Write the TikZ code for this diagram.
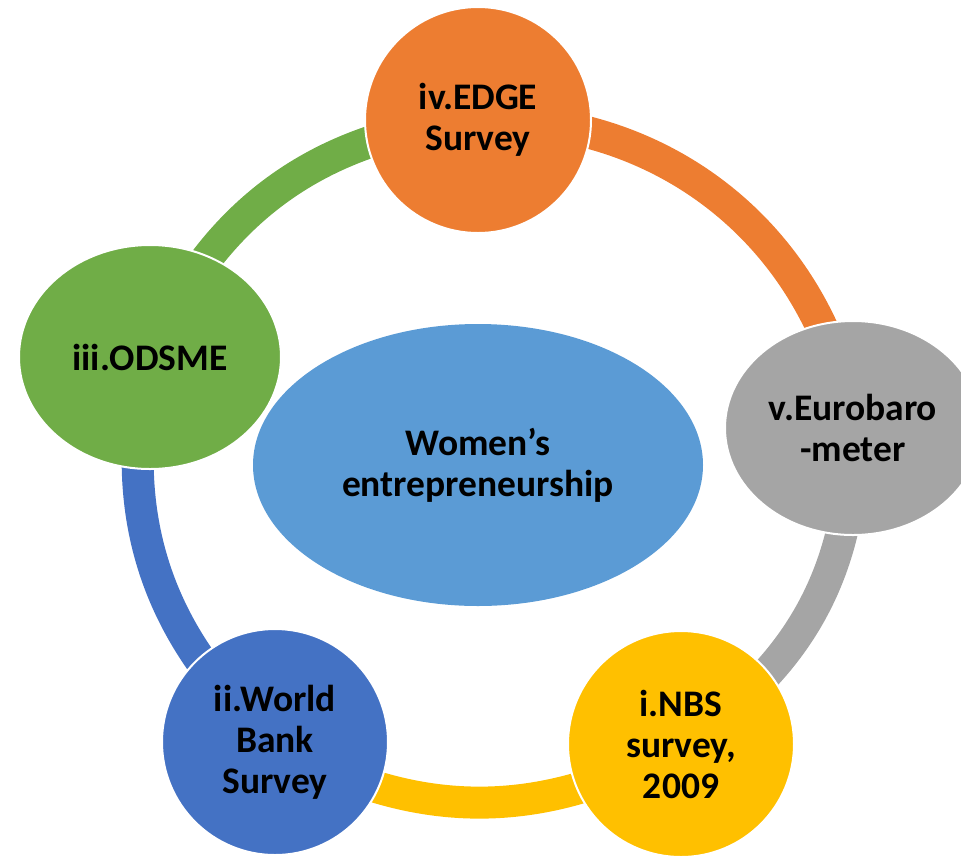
\documentclass[tikz,border=0pt]{standalone}
\usepackage{fontspec}
\setmainfont{Carlito}
\usepackage{tikz}
\usetikzlibrary{shapes.geometric,backgrounds}
\definecolor{softorange}{RGB}{237,125,49}
\definecolor{softgray}{RGB}{165,165,165}
\definecolor{softyellow}{RGB}{255,192,0}
\definecolor{softblue}{RGB}{68,114,196}
\definecolor{softgreen}{RGB}{112,173,71}
\definecolor{hubblue}{RGB}{91,155,213}
\tikzset{
  item/.style ={circle, draw=white, line width=2pt, minimum size=226pt, inner sep=0pt,
                align=center, font=\fontsize{37.5}{41}\selectfont\bfseries},
  oitem/.style={item, ellipse, minimum width=262pt, minimum height=224pt},
  hub/.style  ={ellipse, fill=hubblue, minimum width=450pt, minimum height=282pt,
                inner sep=0pt, align=center, font=\fontsize{37.5}{41}\selectfont\bfseries},
  link/.style ={line width=32pt, line cap=butt}
}

\begin{document}
\begin{tikzpicture}[x=1pt, y=-1pt]
\useasboundingbox (0,0) rectangle (961,855);
\node[hub] (women) at (478,465) {Women’s\\entrepreneurship};
\node[item, fill=softorange] (edge) at (478,120) {iv.EDGE\\Survey};
\node[oitem, fill=softgray, minimum width=256pt, minimum height=214pt] (euro) at (853,428)
  {v.Eurobaro\\-meter};
\node[item, fill=softyellow] (nbs) at (681,744) {i.NBS\\survey,\\2009};
\node[item, fill=softblue] (wbank) at (275,742) {ii.World\\Bank\\Survey};
\node[oitem, fill=softgreen] (odsme) at (150,357) {iii.ODSME};
% ring segments run under the circles
\begin{scope}[on background layer]
\draw[link, softgreen]  (odsme.center) to[bend left=31] (edge.center);
\draw[link, softorange] (edge.center)  to[bend left=41] (euro.center);
\draw[link, softgray]   (euro.center)  to[bend left=29] (nbs.center);
\draw[link, softyellow] (nbs.center)   to[bend left=30] (wbank.center);
\draw[link, softblue]   (wbank.center) to[bend left=31] (odsme.center);
\end{scope}
\end{tikzpicture}
\end{document}
